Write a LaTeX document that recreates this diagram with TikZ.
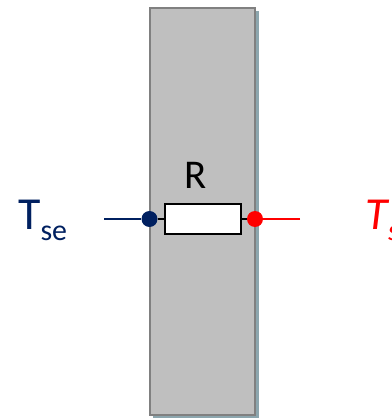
\documentclass[tikz,border=0pt]{standalone}
\usepackage{fontspec}
\setmainfont{Carlito}
\usepackage{tikz}
\usetikzlibrary{positioning}
\definecolor{wallgrey}{RGB}{191, 191, 191}
\definecolor{walledge}{RGB}{128, 128, 128}
\definecolor{wallshadow}{RGB}{140, 166, 174}
\definecolor{tempnavy}{RGB}{0, 32, 96}
\definecolor{tempred}{RGB}{255, 0, 0}
\tikzset{
  resistor/.style={
    draw=black,
    line width=2pt,
    fill=white,
    minimum width=76bp,
    minimum height=30bp,
    inner sep=0pt
  },
  tempdot/.style={
    circle,
    minimum size=16bp,
    inner sep=0pt
  }
}
\begin{document}
\begin{tikzpicture}[x=1bp, y=1bp]
      \useasboundingbox (0, 0) rectangle (392, 419);
      % Wall
      \fill[wallshadow] (153, 1) rectangle (258.5, 408);
      \draw[line width=3pt, fill=wallgrey, draw=walledge] (150, 4) rectangle (255, 411);

      % Resistor
      \node[resistor] (res) at (203, 200) {};
      \node[anchor=base, inner sep=0pt, font=\fontsize{41}{41}\selectfont] (rlabel) at (195.5, 231) {R};

      % Surface nodes
      \node[tempdot, fill=tempnavy] (dotse) at (149.5, 200) {};
      \node[tempdot, fill=tempred] (dotsi) at (255, 200) {};
      \coordinate (endse) at (104, 200);
      \coordinate (endsi) at (300, 200);
      \draw[line width=2pt] (dotse) -- (dotse -| res.west);
      \draw[line width=2pt] (dotsi) -- (dotsi -| res.east);
      \draw[line width=2.2pt, tempnavy] (endse) -- (dotse);
      \draw[line width=2.2pt, tempred] (endsi) -- (dotsi);

      % Temperatures
      \node[anchor=base west, inner sep=0pt, text=tempnavy, font=\fontsize{46}{46}\selectfont] (tse) at (18, 190) {T\raisebox{-11bp}{\fontsize{30}{30}\selectfont se}};
      \node[anchor=base west, inner sep=0pt, text=tempred, font=\fontsize{46}{46}\selectfont\itshape] (tsi) at (365.5, 190) {T\raisebox{-11bp}{\fontsize{30}{30}\selectfont s}};
    \end{tikzpicture}
\end{document}
